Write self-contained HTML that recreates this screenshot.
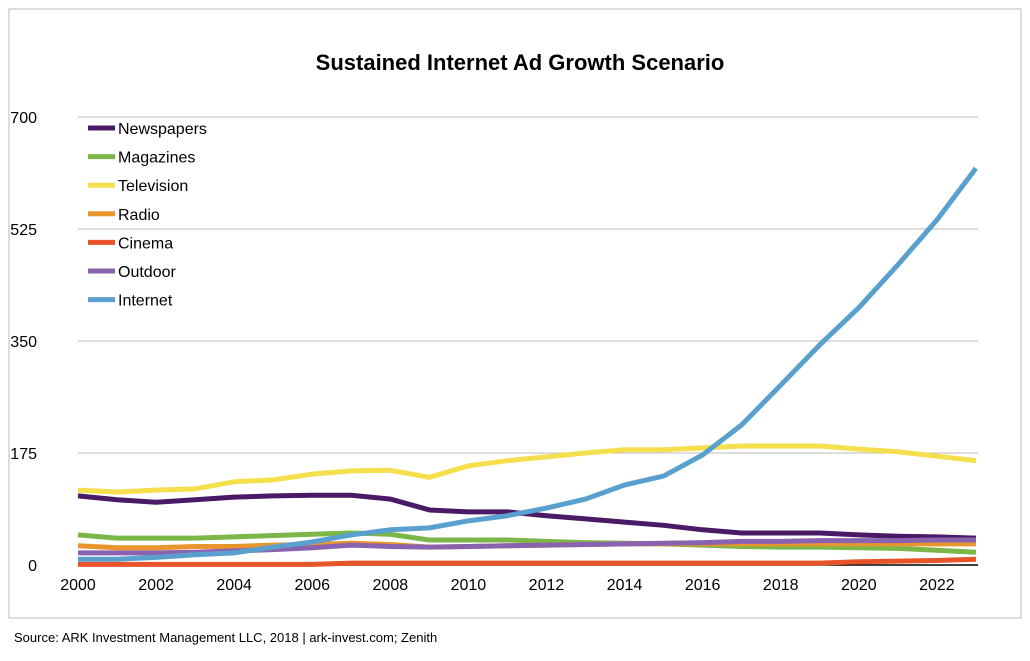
<!DOCTYPE html>
<html><head><meta charset="utf-8"><style>
body{margin:0;background:#fff;font-family:"Liberation Sans",sans-serif}
svg text{font-family:"Liberation Sans",sans-serif}
</style></head><body>
<svg width="1030" height="656" xmlns="http://www.w3.org/2000/svg">
<rect x="9" y="9" width="1012" height="609" fill="#fff" stroke="#bbb"/>
<text x="520" y="70" text-anchor="middle" font-size="22" font-weight="bold">Sustained Internet Ad Growth Scenario</text>
<g id="grid"></g><g id="axes"></g><g id="series"></g><g id="legend"></g>
<text x="14" y="642" font-size="13">Source: ARK Investment Management LLC, 2018 | ark-invest.com; Zenith</text>
</svg>
<script>
const years=[2000,2001,2002,2003,2004,2005,2006,2007,2008,2009,2010,2011,2012,2013,2014,2015,2016,2017,2018,2019,2020,2021,2022,2023];
const yTicks=[0,175,350,525,700];
const xTicks=[2000,2002,2004,2006,2008,2010,2012,2014,2016,2018,2020,2022];
const newspapers=[108,102,98,102,106,108,109,109,103,86,83,83,77,72,67,62,55,50,50,50,47,45,44,42];
const magazines=[47,42,42,42,44,46,48,50,48,39,39,39,37,35,34,33,31,29,28,28,27,26,23,20];
const television=[117,114,117,119,130,133,142,147,148,137,155,163,169,175,180,180,183,186,186,186,181,177,170,163];
const radio=[30,27,27,29,29,31,32,34,32,28,29,30,31,32,33,33,33,33,33,33,33,33,33,33];
const cinema=[1,1,1,1,1,1,1,3,3,3,3,3,3,3,3,3,3,3,3,3,5,6,7,9];
const outdoor=[19,19,19,20,22,24,27,31,29,28,29,30,31,32,33,34,35,37,37,38,38,38,39,39];
const internet=[9,9,12,16,19,28,36,47,55,58,69,77,89,103,125,139,172,219,281,344,402,469,539,620];
const names=["Newspapers","Magazines","Television","Radio","Cinema","Outdoor","Internet"];
const colors=["#4b1a66","#7ab648","#f5df4d","#e8952e","#e8542a","#8a63b0","#5aa0cf"];
const data=[newspapers,magazines,television,radio,cinema,outdoor,internet];
const X=y=>78+(y-2000)*39.04, Y=v=>565-v*0.64;
const NS="http://www.w3.org/2000/svg";
function mk(t,a,p){const e=document.createElementNS(NS,t);for(const k in a)e.setAttribute(k,a[k]);p.appendChild(e);return e;}
const grid=document.getElementById('grid'),axes=document.getElementById('axes'),ser=document.getElementById('series'),leg=document.getElementById('legend');
yTicks.forEach(v=>{
 if(v>0){const l=mk('line',{x1:78,x2:978,y1:Y(v),y2:Y(v),stroke:'#bbb','stroke-width':1},grid);
 
 }
 const t=mk('text',{x:37,y:Y(v)+6,'text-anchor':'end','font-size':16},axes);t.textContent=v;
 
 
});
xTicks.forEach(y=>{const t=mk('text',{x:X(y),y:590,'text-anchor':'middle','font-size':16},axes);t.textContent=y;
 
 });
data.forEach((d,i)=>{const p=mk('polyline',{points:d.map((v,j)=>X(years[j])+','+Y(v)).join(' '),fill:'none',stroke:colors[i],'stroke-width':5,'stroke-linejoin':'round'},ser);
 
 
 const ly=128+i*28.6;
 const g=mk('g',{},leg);
 
 
 mk('line',{x1:88,x2:115,y1:ly,y2:ly,stroke:colors[i],'stroke-width':5},g);
 const t=mk('text',{x:118,y:ly+6,'font-size':16},g);t.textContent=names[i];});
const ax=mk('line',{x1:78,x2:978,y1:565,y2:565,stroke:'#000','stroke-width':1.5},axes);


</script>
</body></html>
